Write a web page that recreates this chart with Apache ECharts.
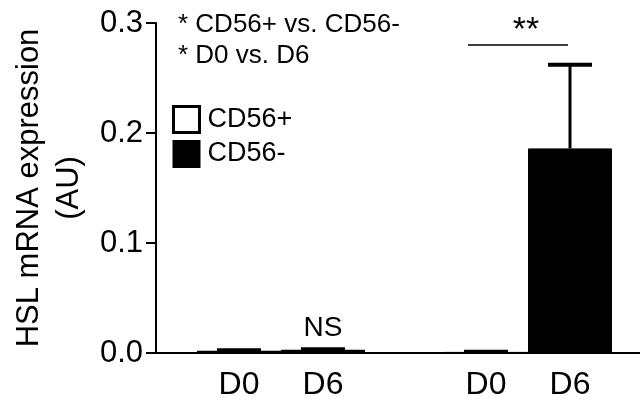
<!DOCTYPE html>
<html>
<head>
<meta charset="utf-8">
<script src="https://cdn.jsdelivr.net/npm/echarts@6/dist/echarts.min.js"></script>
<style>html,body{margin:0;padding:0;background:#fff}#c{width:640px;height:402px}</style>
</head>
<body>
<div id="c"></div>
<script>
// ---- data ----
const categories = ['D0', 'D6', 'D0', 'D6'];
const seriesNames = ['CD56+', 'CD56-'];
const cd56posMean = [0.002, 0.003];
const cd56posErr = [0.0004, 0.0004];
const cd56negMean = [0.001, 0.186];
const cd56negErr = [0.0002, 0.076];
const yTicks = [0.0, 0.1, 0.2, 0.3];
const notes = ['* CD56+ vs. CD56-', '* D0 vs. D6'];
const nsLabel = 'NS';
const sigLabel = '**';
const sigLevel = 0.28;

// ---- layout (positions on a hidden value x-axis) ----
const barPos = [0.83, 1.67, 3.30, 4.14];
const xMax = 4.84;
const sigFrom = 3.12, sigTo = 4.12, sigTextX = 3.70;

const FONT = "'Liberation Sans', Arial, sans-serif";
const chart = echarts.init(document.getElementById('c'), null, {renderer: 'canvas'});

const posData = cd56posMean.map((v, i) => ({
  value: [barPos[i], v],
  label: i === 1 ? {show: true, position: 'top', distance: 7, formatter: nsLabel,
    fontSize: 28, color: '#000', fontFamily: FONT} : {show: false}
}));
const negData = cd56negMean.map((v, i) => [barPos[i + 2], v]);
const errData = cd56posMean.map((v, i) => [barPos[i], v, cd56posErr[i]])
  .concat(cd56negMean.map((v, i) => [barPos[i + 2], v, cd56negErr[i]]));

chart.setOption({
  animation: false,
  backgroundColor: '#fff',
  textStyle: {fontFamily: FONT},
  grid: {left: 156, right: 0, top: 23, bottom: 49, containLabel: false},
  legend: {
    orient: 'vertical', left: 172, top: 105, padding: 0,
    itemWidth: 26, itemHeight: 26, itemGap: 6,
    icon: 'rect',
    textStyle: {fontSize: 27, lineHeight: 26, color: '#000', fontFamily: FONT, padding: [0, 0, 0, 3]},
    data: [
      {name: seriesNames[0], itemStyle: {borderWidth: 3, borderColor: '#000', color: '#fff'}},
      {name: seriesNames[1]}
    ]
  },
  xAxis: {
    type: 'value', min: 0, max: xMax,
    splitLine: {show: false},
    axisLine: {show: true, lineStyle: {color: '#000', width: 2}},
    axisTick: {show: false},
    axisLabel: {
      show: true,
      customValues: barPos,
      formatter: (v) => {
        const i = barPos.findIndex(p => Math.abs(p - v) < 1e-6);
        return i >= 0 ? categories[i] : '';
      },
      fontSize: 32, color: '#000', margin: 16, fontFamily: FONT
    }
  },
  yAxis: {
    type: 'value', min: 0, max: 0.3, interval: 0.1,
    splitLine: {show: false},
    axisLine: {show: true, lineStyle: {color: '#000', width: 2}},
    axisTick: {show: true, inside: false, length: 10, lineStyle: {color: '#000', width: 2}},
    axisLabel: {fontSize: 31, color: '#000', margin: 13, fontFamily: FONT,
      formatter: (v) => v.toFixed(1)},
    name: 'HSL mRNA expression\n(AU)',
    nameLocation: 'middle', nameRotate: 90, nameGap: 63,
    nameTextStyle: {fontSize: 31, color: '#000', lineHeight: 40, fontFamily: FONT}
  },
  graphic: notes.map((t, i) => ({
    type: 'text', left: 178, top: 12 + i * 31,
    style: {text: t, fontSize: 26, fill: '#000', fontFamily: FONT}
  })),
  series: [
    {
      name: seriesNames[0], type: 'bar', barWidth: 84, barGap: '-100%',
      itemStyle: {color: '#fff', borderColor: '#000', borderWidth: 2},
      data: posData
    },
    {
      name: seriesNames[1], type: 'bar', barWidth: 84, barGap: '-100%',
      itemStyle: {color: '#000', borderColor: '#000', borderWidth: 1},
      data: negData
    },
    {
      type: 'custom', name: 'err', silent: true, z: 5,
      data: errData,
      renderItem: (params, api) => {
        const x = api.value(0), m = api.value(1), e = api.value(2);
        const base = api.coord([x, m]);
        const top = api.coord([x, m + e]);
        return {
          type: 'group', children: [
            {type: 'line', shape: {x1: base[0], y1: base[1], x2: top[0], y2: top[1]},
              style: {stroke: '#000', lineWidth: 3}},
            {type: 'line', shape: {x1: top[0] - 22, y1: top[1], x2: top[0] + 22, y2: top[1]},
              style: {stroke: '#000', lineWidth: 4}}
          ]
        };
      }
    },
    {
      type: 'custom', name: 'sig', silent: true, z: 5,
      data: [[sigFrom, sigTo, sigLevel]],
      renderItem: (params, api) => {
        const a = api.coord([api.value(0), api.value(2)]);
        const b = api.coord([api.value(1), api.value(2)]);
        const t = api.coord([sigTextX, api.value(2)]);
        return {
          type: 'group', children: [
            {type: 'line', shape: {x1: a[0], y1: a[1], x2: b[0], y2: b[1]},
              style: {stroke: '#000', lineWidth: 1.5}},
            {type: 'text', x: t[0], y: t[1] + 3,
              style: {text: sigLabel, fontSize: 34, fill: '#000', fontFamily: FONT,
                align: 'center', verticalAlign: 'bottom'}}
          ]
        };
      }
    }
  ]
});
</script>
</body>
</html>
